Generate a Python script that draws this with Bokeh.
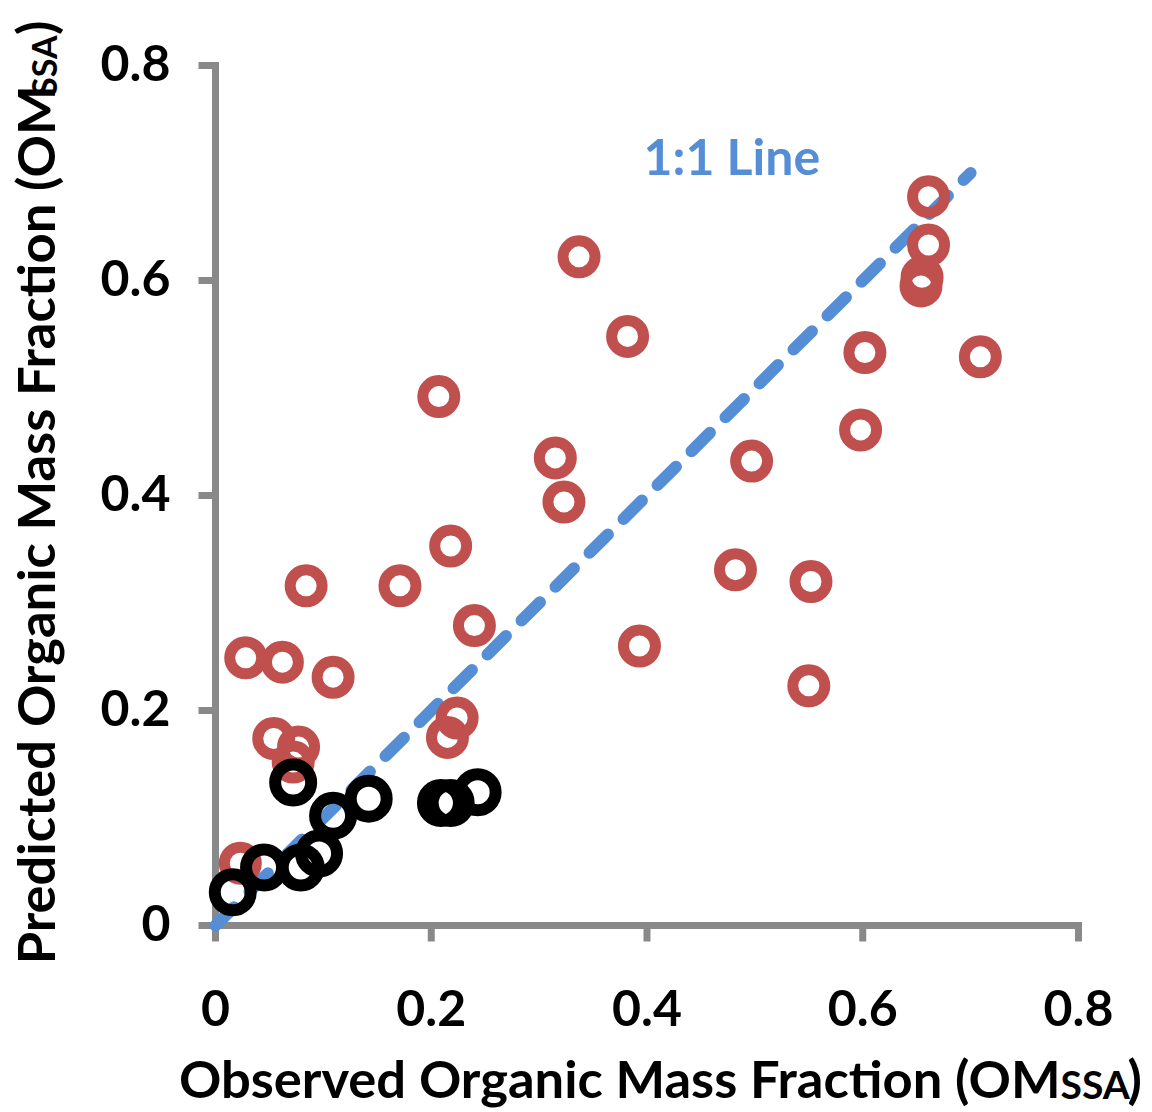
from bokeh.plotting import figure
from bokeh.models import Range1d, Label
from bokeh.embed import file_html
from bokeh.resources import INLINE
import math

# ---- data ----
obs_red = [0.028, 0.062, 0.084, 0.109, 0.054, 0.077, 0.072, 0.023, 0.171, 0.207,
           0.218, 0.240, 0.224, 0.215, 0.315, 0.323, 0.337, 0.382, 0.393, 0.482,
           0.497, 0.550, 0.552, 0.598, 0.602, 0.661, 0.661, 0.655, 0.654, 0.709]
pred_red = [0.249, 0.245, 0.316, 0.231, 0.174, 0.166, 0.152, 0.058, 0.316, 0.492,
            0.353, 0.279, 0.193, 0.175, 0.435, 0.394, 0.622, 0.548, 0.260, 0.331,
            0.432, 0.223, 0.320, 0.461, 0.533, 0.678, 0.633, 0.603, 0.595, 0.529]
obs_black = [0.016, 0.045, 0.079, 0.096, 0.109, 0.142, 0.072, 0.209, 0.218, 0.243]
pred_black = [0.031, 0.054, 0.054, 0.067, 0.102, 0.118, 0.133, 0.114, 0.114, 0.124]
one_to_one = [0.0, 0.7]
ticks = [0, 0.2, 0.4, 0.6, 0.8]
tick_labels = ["0", "0.2", "0.4", "0.6", "0.8"]
x_title = "Observed Organic Mass Fraction (OM"
y_title = "Predicted Organic Mass Fraction (OM"
sub_text = "SSA"
line_label = "1:1 Line"

FONT = "Lato"
AXIS_GRAY = "#898989"

# ---- layout (pixels) ----
W, H = 1150, 1110
X0_PX, X_SCALE = 215.0, 1078.75   # pixel of x=0, pixels per unit
Y0_PX, Y_SCALE = 925.0, 1075.0    # pixel of y=0, pixels per unit
SHIFT = 0.387                      # rendered baseline sits this many em below the anchor

def dx(px):   # pixel offset -> data units (x)
    return px / X_SCALE

def dy(px):
    return px / Y_SCALE

p = figure(width=W, height=H, output_backend="svg", toolbar_location=None,
           x_range=Range1d(-X0_PX / X_SCALE, (W - X0_PX) / X_SCALE),
           y_range=Range1d(-(H - Y0_PX) / Y_SCALE, Y0_PX / Y_SCALE),
           x_axis_location=None, y_axis_location=None,
           min_border=0)
p.min_border_left = p.min_border_right = p.min_border_top = p.min_border_bottom = 0
p.outline_line_color = None
p.grid.visible = False
p.background_fill_color = "white"
p.border_fill_color = "white"

lo, hi = ticks[0], ticks[-1]

# axes lines
p.segment(x0=[lo, lo], y0=[lo, lo], x1=[hi, lo], y1=[lo, hi],
          line_color=AXIS_GRAY, line_width=7, line_cap="square")
# tick marks
TICK = 16
p.segment(x0=ticks, y0=[lo] * len(ticks), x1=ticks, y1=[lo - dy(TICK)] * len(ticks),
          line_color=AXIS_GRAY, line_width=7)
p.segment(x0=[lo] * len(ticks), y0=ticks, x1=[lo - dx(TICK + 1)] * len(ticks), y1=ticks,
          line_color=AXIS_GRAY, line_width=7)

# tick labels
TL = 50
p.text(x=ticks, y=[lo - dy(102 - SHIFT * TL)] * len(ticks), text=tick_labels,
       text_font={"value": FONT}, text_font_style="bold", text_font_size=f"{TL}px",
       text_color="black", text_align="center", text_baseline="alphabetic")
p.text(x=[lo - dx(45)] * len(ticks), y=[t - dy(17 - SHIFT * TL) for t in ticks], text=tick_labels,
       text_font={"value": FONT}, text_font_style="bold", text_font_size=f"{TL}px",
       text_color="black", text_align="right", text_baseline="alphabetic")

# 1:1 line
p.line(one_to_one, one_to_one, line_color="#558ED5", line_width=12,
       line_dash="26 22", line_cap="round")

p.scatter(obs_red, pred_red, marker="circle", size=32, fill_alpha=0,
          line_color="#C0504D", line_width=11)
p.scatter(obs_black, pred_black, marker="circle", size=36, fill_alpha=0,
          line_color="black", line_width=12)

# texts (screen units: from canvas left / canvas bottom); positions given as
# the wanted baseline in page pixels, corrected by SHIFT
def lab(text, px, py, size, align, angle=0.0, color="black"):
    if angle == 0.0:
        sx, sy = px, H - (py - SHIFT * size)
    else:
        sx, sy = px - SHIFT * size, H - py
    p.add_layout(Label(x=sx, y=sy, x_units="screen", y_units="screen", text=text,
                       text_font=FONT, text_font_style="bold", text_font_size=f"{size}px",
                       text_color=color, text_align=align, text_baseline="alphabetic",
                       angle=angle))

TT = 52.5
lab(x_title, 1060, 1097, TT, "right")
lab(sub_text, 1060, 1099, 39, "left")
lab(")", 1127, 1097, TT, "left")

lab(y_title, 54, 85, TT, "right", math.pi / 2)
lab(sub_text, 56, 35, 34, "right", math.pi / 2)
lab(")", 54, 20, TT, "right", math.pi / 2)

lab(line_label, 643, 175, 50, "left", color="#558ED5")

open("out.html", "w").write(file_html(p, INLINE))
